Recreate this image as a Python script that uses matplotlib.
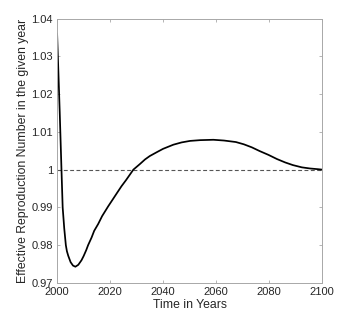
import matplotlib
matplotlib.use("Agg")
import matplotlib.pyplot as plt

years = [2000, 2001, 2001.65, 2002.1, 2002.7, 2003.3, 2003.7, 2004.2, 2005.1, 2006,
         2006.9, 2008, 2009.2, 2010, 2011, 2011.7, 2013, 2014, 2015.5, 2017,
         2019.3, 2021, 2022.5, 2024.3, 2026, 2028.8, 2031.3, 2033.2, 2035, 2037.6,
         2040, 2043.9, 2047, 2050.2, 2054, 2059, 2063, 2067.5, 2070.5, 2073.5,
         2076.5, 2079.8, 2083, 2086.1, 2089, 2092.4, 2095.5, 2098.7, 2100]
r_eff = [1.0360, 1.0150, 1.0000, 0.9900, 0.9844, 0.9800, 0.9784, 0.9772, 0.9755,
         0.9746, 0.9743, 0.9748, 0.9760, 0.9771, 0.9787, 0.9800, 0.9820, 0.9838,
         0.9856, 0.9877, 0.9903, 0.9921, 0.9937, 0.9956, 0.9972, 1.0000, 1.0015,
         1.0027, 1.0036, 1.0046, 1.0055, 1.0066, 1.0072, 1.0076, 1.0078, 1.0079,
         1.0077, 1.0073, 1.0067, 1.0059, 1.0049, 1.0039, 1.0028, 1.0019, 1.0012,
         1.0006, 1.0003, 1.0001, 1.0000]
ref_level = 1.0
xticks = [2000, 2020, 2040, 2060, 2080, 2100]
yticks = [0.97, 0.98, 0.99, 1.00, 1.01, 1.02, 1.03, 1.04]
yticklabels = ["0.97", "0.98", "0.99", "1", "1.01", "1.02", "1.03", "1.04"]

plt.rcParams['font.family'] = ['Liberation Sans', 'DejaVu Sans']
fig = plt.figure(figsize=(3.44, 3.19), dpi=100)
ax = fig.add_axes([0.166, 0.113, 0.770, 0.829])
ax.axhline(ref_level, color='#555555', lw=0.8, ls=(0, (3.5, 2.2)))
ax.plot(years, r_eff, color='black', lw=1.25, solid_joinstyle='round',
        solid_capstyle='round')
ax.set_xlim(2000, 2100)
ax.set_ylim(0.97, 1.04)
ax.set_xticks(xticks)
ax.set_yticks(yticks)
ax.set_yticklabels(yticklabels)
for s in ax.spines.values():
    s.set_color('#a8a8a8')
    s.set_linewidth(0.7)
ax.tick_params(direction='in', length=2.5, width=0.6, color='#a8a8a8',
               labelsize=8, labelcolor='#262626', top=True, right=True, pad=3)
ax.set_xlabel('Time in Years', fontsize=8.8, color='#262626', labelpad=1)
ax.set_ylabel('Effective Reproduction Number in the given year', fontsize=8.8,
              color='#262626', labelpad=1.5)
fig.savefig('out.png', dpi=100)
